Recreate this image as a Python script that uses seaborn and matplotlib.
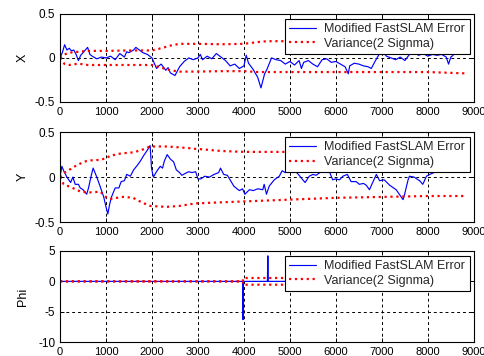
import matplotlib
matplotlib.use("Agg")
import matplotlib.pyplot as plt
import seaborn as sns

# ---- error traces and 2-sigma bounds ----
x_err_t = [0, 50, 100, 150, 200, 250, 300, 350, 400, 450, 500, 550, 600, 650, 700, 800, 900, 1000,
           1100, 1200, 1300, 1400, 1450, 1500, 1600, 1650, 1700, 1800, 1900, 2000, 2050, 2100, 2150,
           2200, 2300, 2350, 2400, 2500, 2600, 2700, 2800, 2900, 3000, 3050, 3100, 3200, 3300, 3400,
           3500, 3600, 3700, 3800, 3900, 4000, 4050, 4100, 4200, 4300, 4370, 4450, 4500, 4600, 4700,
           4800, 4900, 5000, 5100, 5200, 5250, 5300, 5400, 5500, 5600, 5700, 5800, 5900, 6000, 6100,
           6200, 6270, 6300, 6400, 6500, 6600, 6700, 6770, 6850, 6950, 7000, 7100, 7200, 7300, 7400,
           7500, 7600, 7700, 7800, 7900, 8000, 8100, 8200, 8300, 8400, 8450, 8500, 8550]
x_err_v = [0.0, 0.06, 0.15, 0.09, 0.11, 0.08, 0.09, 0.04, -0.03, 0.03, 0.06, 0.09, 0.12, 0.04, 0.02,
           -0.01, 0.01, 0.0, 0.02, -0.02, 0.05, 0.01, 0.07, 0.06, 0.09, 0.12, 0.10, 0.06, 0.04, 0.0,
           -0.06, -0.12, -0.09, -0.07, -0.14, -0.11, -0.17, -0.20, -0.10, -0.04, 0.0, -0.02, 0.0, 0.04,
           -0.02, 0.02, -0.01, 0.05, 0.01, -0.03, -0.09, -0.07, -0.12, -0.09, 0.03, -0.06, -0.13,
           -0.22, -0.34, -0.18, -0.13, 0.0, -0.02, -0.03, -0.07, -0.04, -0.08, -0.03, -0.12, -0.05,
           -0.03, -0.07, -0.10, -0.02, -0.01, -0.05, -0.04, -0.07, -0.10, -0.18, -0.09, -0.06, -0.07,
           -0.09, -0.10, -0.12, -0.04, 0.05, 0.08, 0.02, 0.0, -0.02, 0.01, -0.03, 0.04, 0.06, 0.03,
           0.05, 0.02, 0.04, 0.03, 0.04, 0.01, -0.07, 0.01, 0.03]

x_sig_t = [0, 100, 200, 400, 600, 1000, 1500, 2000, 2200, 2400, 2600, 3000, 3500, 4000, 4300,
           4500, 5000, 6000, 7000, 8000, 8800]
x_sig_up = [0.0, 0.04, 0.06, 0.07, 0.08, 0.08, 0.085, 0.085, 0.11, 0.14, 0.16, 0.16, 0.155, 0.16,
            0.18, 0.19, 0.19, 0.19, 0.19, 0.19, 0.19]
x_sig_lo = [0.0, -0.07, -0.08, -0.065, -0.08, -0.08, -0.08, -0.08, -0.11, -0.14, -0.155, -0.155,
            -0.15, -0.15, -0.16, -0.16, -0.16, -0.16, -0.16, -0.16, -0.175]

y_err_t = [0, 40, 80, 150, 230, 280, 330, 400, 440, 500, 580, 620, 680, 720, 760, 800, 870, 950,
           1000, 1040, 1080, 1120, 1200, 1280, 1330, 1400, 1450, 1530, 1600, 1680, 1750, 1820, 1900,
           1960, 1990, 2030, 2110, 2180, 2230, 2270, 2330, 2400, 2470, 2530, 2600, 2650, 2720, 2800,
           2870, 2950, 3000, 3060, 3150, 3250, 3350, 3450, 3490, 3560, 3640, 3710, 3780, 3850, 3900,
           3970, 4020, 4120, 4200, 4300, 4410, 4440, 4490, 4550, 4660, 4770, 4830, 4900, 5000, 5060,
           5130, 5200, 5280, 5330, 5420, 5500, 5570, 5650, 5720, 5800, 5860, 5930, 6000, 6080, 6150,
           6250, 6330, 6440, 6510, 6600, 6660, 6730, 6800, 6880, 6950, 7050, 7170, 7310, 7420, 7460,
           7490, 7570, 7600, 7700, 7820, 7890, 7970, 8040, 8180, 8260, 8400, 8550]
y_err_v = [0.0, 0.12, 0.07, 0.0, -0.06, 0.0, -0.08, -0.08, -0.12, -0.14, -0.19, -0.12, 0.02, 0.10,
           0.05, 0.0, -0.10, -0.22, -0.33, -0.41, -0.30, -0.22, -0.12, -0.12, -0.05, -0.04, 0.03,
           0.01, 0.08, 0.13, 0.18, 0.24, 0.30, 0.35, 0.10, 0.0, 0.07, 0.12, 0.10, 0.18, 0.25, 0.20,
           0.17, 0.08, 0.05, 0.02, 0.04, 0.06, 0.05, 0.06, -0.02, -0.02, 0.01, 0.0, 0.03, 0.05, 0.10,
           0.03, 0.02, -0.04, -0.10, -0.13, -0.15, -0.13, -0.19, -0.14, -0.15, -0.13, -0.14, -0.08,
           -0.19, -0.10, -0.03, 0.01, 0.07, 0.05, 0.08, 0.05, 0.06, 0.02, -0.03, -0.06, 0.01, 0.03,
           0.02, 0.05, 0.08, 0.05, 0.06, -0.03, -0.02, -0.03, 0.01, 0.03, -0.05, -0.05, -0.08, -0.07,
           -0.09, -0.14, -0.06, 0.03, -0.04, -0.03, -0.09, -0.14, -0.22, -0.25, -0.20, -0.03, 0.01,
           0.0, -0.04, -0.08, 0.01, 0.03, 0.06, 0.07, 0.06, 0.08]

y_sig_t = [0, 80, 100, 230, 250, 400, 440, 580, 650, 800, 870, 1000, 1010, 1100, 1120, 1300, 1370,
           1500, 1590, 1700, 1820, 1960, 2300, 2330, 2600, 2840, 3000, 3060, 3500, 4000, 5000, 6000,
           7000, 8000, 8800]
y_sig_up = [0.0, 0.04, 0.05, 0.09, 0.10, 0.14, 0.15, 0.18, 0.185, 0.19, 0.19, 0.21, 0.21, 0.24,
            0.24, 0.26, 0.265, 0.27, 0.275, 0.29, 0.31, 0.34, 0.34, 0.34, 0.33, 0.32, 0.31, 0.31,
            0.29, 0.28, 0.28, 0.28, 0.28, 0.28, 0.28]
y_sig_lo = [0.0, -0.08, -0.085, -0.11, -0.115, -0.15, -0.16, -0.17, -0.17, -0.165, -0.16, -0.22,
            -0.23, -0.24, -0.24, -0.225, -0.22, -0.225, -0.23, -0.26, -0.29, -0.32, -0.33, -0.33,
            -0.32, -0.30, -0.29, -0.29, -0.28, -0.27, -0.25, -0.23, -0.22, -0.21, -0.21]

phi_err_t = [0, 3970, 3980, 3990, 4510, 4520, 4530, 8550]
phi_err_v = [0.0, 0.0, -6.3, 0.0, 0.0, 4.2, 0.0, 0.0]
phi_sig_t = [0, 3975, 3985, 8800]
phi_sig_up = [0.0, 0.0, 0.55, 0.55]
phi_sig_lo = [0.0, 0.0, -0.55, -0.55]

x_ticks = [0, 1000, 2000, 3000, 4000, 5000, 6000, 7000, 8000, 9000]
err_label = "Modified FastSLAM Error"
sig_label = "Variance(2 Signma)"

sns.set_theme(style="white")
plt.rcParams["font.family"] = ["Liberation Sans", "DejaVu Sans"]
plt.rcParams["axes.unicode_minus"] = False

fig = plt.figure(figsize=(4.84, 3.56), dpi=100)
boxes = [(0.124, 0.7135, 0.855, 0.2475),
         (0.124, 0.376, 0.855, 0.253),
         (0.124, 0.039, 0.855, 0.256)]
panels = [
    ("X", x_err_t, x_err_v, x_sig_t, x_sig_up, x_sig_lo, (-0.5, 0.5), [-0.5, 0, 0.5], ["-0.5", "0", "0.5"]),
    ("Y", y_err_t, y_err_v, y_sig_t, y_sig_up, y_sig_lo, (-0.5, 0.5), [-0.5, 0, 0.5], ["-0.5", "0", "0.5"]),
    ("Phi", phi_err_t, phi_err_v, phi_sig_t, phi_sig_up, phi_sig_lo, (-10, 5), [-10, -5, 0, 5], ["-10", "-5", "0", "5"]),
]

for box, (name, et, ev, st, su, sl, ylim, yt, ytl) in zip(boxes, panels):
    ax = fig.add_axes(box)
    sns.lineplot(x=et, y=ev, ax=ax, color="#0000ff", linewidth=0.85, label=err_label, estimator=None)
    sns.lineplot(x=st, y=su, ax=ax, color="#ff0000", linewidth=1.6, linestyle=":", label=sig_label,
                 estimator=None)
    sns.lineplot(x=st, y=sl, ax=ax, color="#ff0000", linewidth=1.6, linestyle=":", estimator=None)
    ax.set_xlim(0, 9000)
    ax.set_ylim(*ylim)
    ax.set_xticks(x_ticks)
    ax.set_xticklabels([str(t) for t in x_ticks], fontsize=8)
    ax.set_yticks(yt)
    ax.set_yticklabels(ytl, fontsize=8.5)
    ax.grid(True, color="black", linewidth=0.7, linestyle=(0, (3, 3)))
    ax.set_axisbelow(True)
    for sp in ax.spines.values():
        sp.set_color("black")
        sp.set_linewidth(0.8)
        sp.set_visible(True)
    ax.tick_params(direction="in", length=3, width=0.7, colors="black", pad=3.5,
                   top=True, right=True, bottom=True, left=True)
    ax.set_xlabel("")
    ax.set_ylabel(name, fontsize=9, color="black")
    ax.yaxis.set_label_coords(-0.075, 0.5)
    leg = ax.legend(loc="upper right", bbox_to_anchor=(0.99, 0.945), borderaxespad=0,
                    fancybox=False, framealpha=1, edgecolor="black", fontsize=9,
                    handlelength=2.1, handletextpad=0.7, borderpad=0.35, labelspacing=0.2)
    leg.get_frame().set_linewidth(0.8)

fig.savefig("out.png", dpi=100, facecolor="white")
